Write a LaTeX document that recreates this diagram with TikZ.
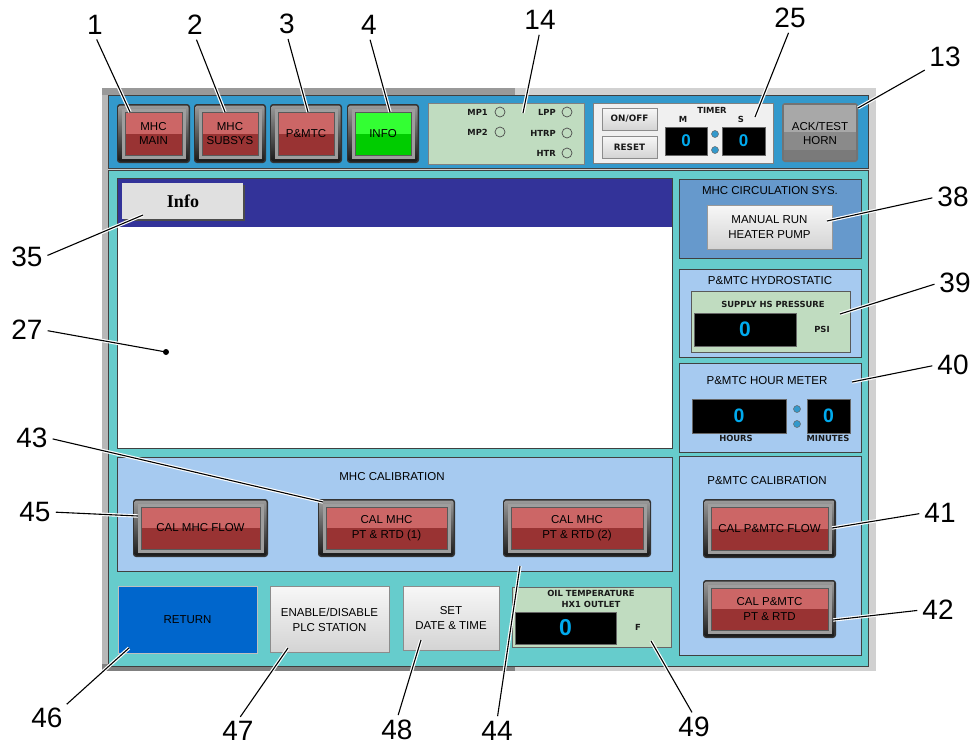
\documentclass[tikz,border=0pt]{standalone}
\usepackage{fontspec}
\setmainfont{Liberation Sans}
\newfontfamily\dvfont{DejaVu Sans}
\newfontfamily\serifbf{Liberation Serif}
\usetikzlibrary{calc}
\definecolor{topblue}{HTML}{3399CC}
\definecolor{tealbg}{HTML}{66CCCC}
\definecolor{hdrblue}{HTML}{333399}
\definecolor{redlt}{HTML}{CC6666}
\definecolor{reddk}{HTML}{993333}
\definecolor{grnlt}{HTML}{33FF33}
\definecolor{grndk}{HTML}{00CC00}
\definecolor{panelgrn}{HTML}{C0DCC0}
\definecolor{panelgray}{HTML}{F0F0F0}
\definecolor{circblue}{HTML}{6699CC}
\definecolor{ltblue}{HTML}{A6CAF0}
\definecolor{retblue}{HTML}{0066CC}
\definecolor{digcyan}{HTML}{00AAEE}
\definecolor{hornlt}{HTML}{A8A8A8}
\definecolor{horndk}{HTML}{8A8A8A}
\tikzset{
  callout/.style={draw=black, line width=1.1pt, shorten <=4pt,
    preaction={draw=white, line width=3.4pt, shorten <=4pt}},
  num/.style={font=\fontsize{28}{30}\selectfont, inner sep=1pt},
  btntext/.style={font=\fontsize{11.5}{14.5}\selectfont, align=center, text=black, inner sep=0pt},
  uitext/.style={font=\fontsize{11.5}{14.5}\selectfont, align=center, text=black, inner sep=0pt},
  sb/.style={font=\dvfont\bfseries\fontsize{8.4}{11}\selectfont, align=center, text=black!90, inner sep=0pt},
  panel/.style={draw=black!75, line width=0.8pt},
  display/.style={fill=black, draw=black!60, line width=0.6pt},
  dig/.style={text=digcyan, inner sep=0pt},
  greybtn/.style={top color=white!97!black, bottom color=black!17, draw=black!45, line width=0.7pt},
  dotc/.style={fill=topblue, draw=black!60, line width=0.5pt},
  ledc/.style={draw=black!70, line width=0.7pt},
}
\newcommand{\bevbtn}[8]{%
  \fill[black!80, rounded corners=3pt] (#2,#3) rectangle (#4,#5);
  \shade[top color=black!40, bottom color=black!90, rounded corners=2pt] (#2+1.5,#3+1.5) rectangle (#4-1.5,#5-1.5);
  \fill[black!38] (#2+4.5,#3+4.5) rectangle (#4-4.5,#5-4.5);
  \fill[#6] (#2+8,#3+8) rectangle (#4-8,{(#3+#5)/2});
  \fill[#7] (#2+8,{(#3+#5)/2}) rectangle (#4-8,#5-8);
  \draw[black!65, line width=0.6pt] (#2+8,#3+8) rectangle (#4-8,#5-8);
  \node[btntext] (#1) at ({(#2+#4)/2},{(#3+#5)/2}) {#8};
}
\begin{document}
\begin{tikzpicture}[x=1pt,y=-1pt]
\useasboundingbox (0,0) rectangle (975,748);
\fill[white] (0,0) rectangle (975,748);
% outer frame
\fill[black!18] (102,88) rectangle (876,671);
\fill[black!40] (102,88) rectangle (515,95);
\fill[black!50] (102,664) rectangle (515,671);
\fill[black!28] (102,95) rectangle (108,664);
% top bar
\fill[topblue, draw=black!75, line width=0.8pt] (108,95) rectangle (868,168);
% teal area
\fill[tealbg, draw=black!75, line width=0.8pt] (108,170) rectangle (868,666);
% top buttons
\bevbtn{b1}{117}{104}{190}{163}{redlt}{reddk}{MHC\\MAIN}
\bevbtn{b2}{194}{104}{266}{163}{redlt}{reddk}{MHC\\SUBSYS}
\bevbtn{b3}{270}{104}{342}{163}{redlt}{reddk}{P\&MTC}
\bevbtn{b4}{347}{104}{419}{163}{grnlt}{grndk}{INFO}
% status panel
\fill[panelgrn, draw=black!50, line width=0.7pt] (428,103) rectangle (584,164);
\node[sb, anchor=east] (lmp1) at (488,112) {MP1};
\node[sb, anchor=east] (lmp2) at (488,132) {MP2};
\node[sb, anchor=east] (llpp) at (556,112) {LPP};
\node[sb, anchor=east] (lhtrp) at (556,133) {HTRP};
\node[sb, anchor=east] (lhtr) at (556,153) {HTR};
\draw[ledc] (500,112) circle (5);
\draw[ledc] (500,132) circle (5);
\draw[ledc] (567,112) circle (5);
\draw[ledc] (567,133) circle (5);
\draw[ledc] (567,153) circle (5);
% timer panel
\fill[panelgray, draw=black!50, line width=0.7pt] (593,103) rectangle (773,163);
\shade[greybtn] (602,108) rectangle (657,130);
\node[sb, font=\dvfont\bfseries\fontsize{8.8}{10}\selectfont] (onoff) at (629.5,119) {ON/OFF};
\shade[greybtn] (602,136) rectangle (657,158);
\node[sb, font=\dvfont\bfseries\fontsize{8.8}{10}\selectfont] (reset) at (629.5,147) {RESET};
\node[sb] (timer) at (712,110) {TIMER};
\node[sb] (tm) at (683,119) {M};
\node[sb] (ts) at (741,119) {S};
\fill[display] (665,127) rectangle (707,155);
\fill[display] (722,127) rectangle (765,155);
\node[dig, font=\bfseries\fontsize{17}{17}\selectfont] (tmin) at (686,141) {0};
\node[dig, font=\bfseries\fontsize{17}{17}\selectfont] (tsec) at (743.5,141) {0};
\fill[dotc] (715,134) circle (3.5);
\fill[dotc] (715,150) circle (3.5);
% horn button
\fill[black!55, rounded corners=3pt] (782,103) rectangle (858,162);
\fill[hornlt] (784,105) rectangle (856,132);
\fill[horndk] (784,132) rectangle (856,150);
\fill[black!52] (784,150) rectangle (856,160);
\node[btntext] (horn) at (820,133.5) {ACK/TEST\\HORN};
% info area
\fill[hdrblue] (117,178) rectangle (672,227);
\fill[white] (117,227) rectangle (672,448);
\draw[panel] (117,178) rectangle (672,448);
\fill[black!70] (124,185) rectangle (245,221);
\fill[black!12] (122,183) rectangle (243,219);
\node[font=\serifbf\bfseries\fontsize{18}{20}\selectfont, inner sep=0pt] (info) at (183,201) {Info};
% MHC calibration
\fill[ltblue] (117,457) rectangle (672,571);
\draw[panel] (117,457) rectangle (672,571);
\node[uitext] (mhccal) at (392,477) {MHC CALIBRATION};
\bevbtn{c1}{133}{499}{268}{557}{redlt}{reddk}{CAL MHC FLOW}
\bevbtn{c2}{318}{499}{455}{557}{redlt}{reddk}{CAL MHC\\PT \& RTD (1)}
\bevbtn{c3}{503}{499}{651}{557}{redlt}{reddk}{CAL MHC\\PT \& RTD (2)}
% bottom row
\fill[retblue, draw=white!75!black, line width=1pt] (118,586) rectangle (257,653);
\node[btntext] (ret) at (187.5,620) {RETURN};
\shade[greybtn] (270,586) rectangle (389,652);
\node[btntext] (enable) at (329.5,620) {ENABLE/DISABLE\\PLC STATION};
\shade[greybtn] (403,586) rectangle (499,650);
\node[btntext] (setdt) at (451,618) {SET\\DATE \& TIME};
\fill[panelgrn, draw=black!60, line width=0.7pt] (512,587) rectangle (671,647);
\node[sb] (oiltemp) at (591,599) {OIL TEMPERATURE\\HX1 OUTLET};
\fill[display] (515,612) rectangle (616,644);
\node[dig, font=\bfseries\fontsize{23}{23}\selectfont] (oil0) at (565.5,628) {0};
\node[sb] (oilf) at (638,627) {F};
% right: circulation
\fill[circblue] (679,179) rectangle (861,258);
\draw[panel] (679,179) rectangle (861,258);
\node[uitext] (circ) at (770,191) {MHC CIRCULATION SYS.};
\shade[greybtn, draw=white!60!black] (707,205) rectangle (832,249);
\node[btntext] (manrun) at (769.5,227) {MANUAL RUN\\HEATER PUMP};
% hydrostatic
\fill[ltblue] (679,269) rectangle (861,357);
\draw[panel] (679,269) rectangle (861,357);
\node[uitext] (hydro) at (770,280.5) {P\&MTC HYDROSTATIC};
\fill[panelgrn, draw=black!65, line width=0.7pt] (691,291) rectangle (850,352);
\node[sb] (supply) at (773,304.5) {SUPPLY HS PRESSURE};
\fill[display] (694,313) rectangle (796,346);
\node[dig, font=\bfseries\fontsize{21}{21}\selectfont] (psi0) at (745,329.5) {0};
\node[sb] (psi) at (822,329) {PSI};
% hour meter
\fill[ltblue] (679,363) rectangle (861,452);
\draw[panel] (679,363) rectangle (861,452);
\node[uitext] (hourm) at (767,381) {P\&MTC HOUR METER};
\fill[display] (692,399) rectangle (786,433);
\fill[display] (807,399) rectangle (850,433);
\node[dig, font=\bfseries\fontsize{19.5}{20}\selectfont] (hr0) at (739,416) {0};
\node[dig, font=\bfseries\fontsize{19.5}{20}\selectfont] (mn0) at (828.5,416) {0};
\fill[dotc] (797,409) circle (3.5);
\fill[dotc] (797,424) circle (3.5);
\node[sb] (hours) at (736,438.5) {HOURS};
\node[sb] (minutes) at (828,438.5) {MINUTES};
% P&MTC calibration
\fill[ltblue] (679,456) rectangle (861,655);
\draw[panel] (679,456) rectangle (861,655);
\node[uitext] (pmcal) at (767,481) {P\&MTC CALIBRATION};
\bevbtn{p1}{703}{499}{836}{558}{redlt}{reddk}{CAL P\&MTC FLOW}
\bevbtn{p2}{703}{580}{836}{638}{redlt}{reddk}{CAL P\&MTC\\PT \& RTD}
% callout targets
\coordinate (t1) at (130,112);
\coordinate (t2) at (225,112);
\coordinate (t3) at (308,112);
\coordinate (t4) at (390,112);
\coordinate (t14) at (523,113);
\coordinate (t25) at (755,117);
\coordinate (t13) at (858,108);
\coordinate (t38) at (827,221);
\coordinate (t39) at (840,314);
\coordinate (t40) at (852,382);
\coordinate (t41) at (832,528);
\coordinate (t42) at (833,620);
\coordinate (t35) at (143,215);
\coordinate (t27) at (166,352);
\coordinate (t43) at (323,502);
\coordinate (t45) at (138,516);
\coordinate (t46) at (129,648);
\coordinate (t47) at (288,648);
\coordinate (t48) at (421,640);
\coordinate (t44) at (520,566);
\coordinate (t49) at (651,641);
% callout labels
\node[num] (n1) at (95,25) {1};
\node[num] (n2) at (195,25) {2};
\node[num] (n3) at (287,24) {3};
\node[num] (n4) at (369,25) {4};
\node[num] (n14) at (540,20) {14};
\node[num] (n25) at (790,18) {25};
\node[num] (n13) at (945,57) {13};
\node[num] (n38) at (953,197) {38};
\node[num] (n39) at (955,283) {39};
\node[num] (n40) at (953,365) {40};
\node[num] (n41) at (940,513) {41};
\node[num] (n42) at (938,610) {42};
\node[num] (n35) at (27,257) {35};
\node[num] (n27) at (27,330) {27};
\node[num] (n43) at (32,438) {43};
\node[num] (n45) at (35,512) {45};
\node[num] (n46) at (47,718) {46};
\node[num] (n47) at (238,731) {47};
\node[num] (n48) at (397,730) {48};
\node[num] (n44) at (497,731) {44};
\node[num] (n49) at (694,727) {49};
% callout lines
\draw[callout] (n1.south) -- (t1);
\draw[callout] (n2.south) -- (t2);
\draw[callout] (n3.south) -- (t3);
\draw[callout] (n4.south) -- (t4);
\draw[callout] (n14.south) -- (t14);
\draw[callout] (n25.south) -- (t25);
\draw[callout] (n13.south west) -- (t13);
\draw[callout] (n38.west) -- (t38);
\draw[callout] (n39.west) -- (t39);
\draw[callout] (n40.west) -- (t40);
\draw[callout] (n41.west) -- (t41);
\draw[callout] (n42.west) -- (t42);
\draw[callout] (n35.east) -- (t35);
\draw[callout] (n27.east) -- (t27);
\draw[callout] (n43.east) -- (t43);
\draw[callout] (n45.east) -- (t45);
\draw[callout] (n46.north east) -- (t46);
\draw[callout] (n47.north) -- (t47);
\draw[callout] (n48.north) -- (t48);
\draw[callout] (n44.north) -- (t44);
\draw[callout] (n49.north) -- (t49);
\fill[black] (t27) circle (3);
\end{tikzpicture}
\end{document}
